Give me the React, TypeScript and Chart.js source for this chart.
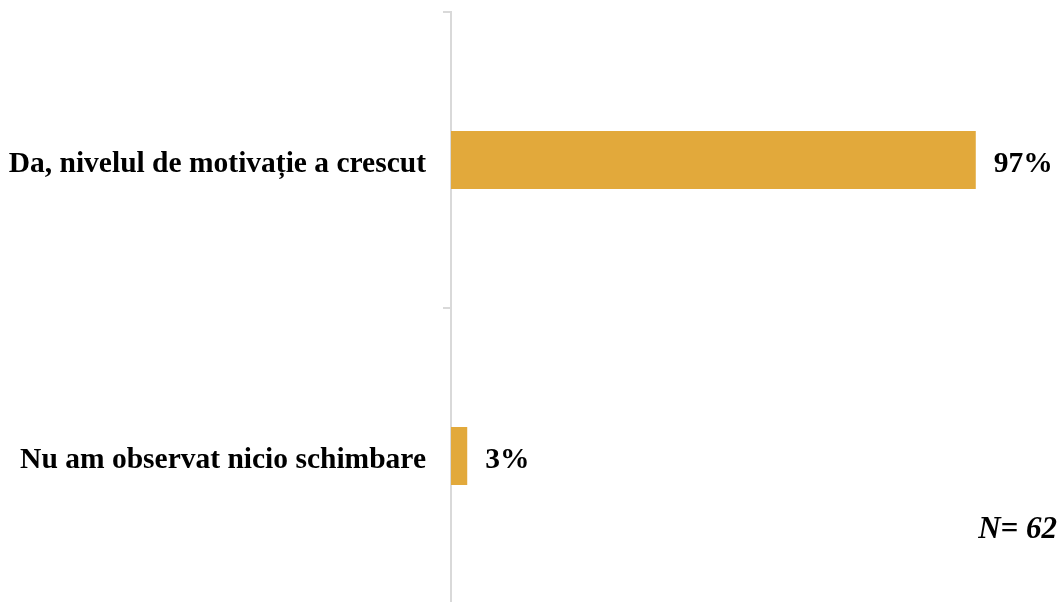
import React, { useEffect, useRef } from "react";
import { Chart, registerables } from "chart.js";

Chart.register(...registerables);

const categories: string[] = ["Da, nivelul de motivație a crescut", "Nu am observat nicio schimbare"];
const values: number[] = [97, 3];
const noteText = "N= 62";

const SERIF = "'Liberation Serif', 'Times New Roman', serif";
const BAR_COLOR = "#E2A93B";
const AXIS_COLOR = "#d9d9d9";

const valueLabels = {
  id: "valueLabels",
  afterDatasetsDraw(chart: any) {
    const ctx = chart.ctx;
    const meta = chart.getDatasetMeta(0);
    ctx.save();
    ctx.font = `bold 29.5px ${SERIF}`;
    ctx.fillStyle = "#000";
    ctx.textAlign = "left";
    ctx.textBaseline = "middle";
    meta.data.forEach((el: any, i: number) => {
      ctx.fillText(`${values[i]}%`, el.x + 18, el.y + 4);
    });
    ctx.font = `italic bold 31px ${SERIF}`;
    ctx.textAlign = "right";
    ctx.fillText(noteText, chart.width - 3, 530);
    ctx.restore();
  },
};

export default function App() {
  const ref = useRef<HTMLCanvasElement | null>(null);
  useEffect(() => {
    if (!ref.current) return;
    const chart = new Chart(ref.current, {
      type: "bar",
      data: {
        labels: categories,
        datasets: [
          {
            data: values,
            backgroundColor: BAR_COLOR,
            borderWidth: 0,
            barPercentage: 0.196,
            categoryPercentage: 1,
          },
        ],
      },
      options: {
        indexAxis: "y",
        responsive: false,
        animation: false,
        layout: { padding: { top: 12, right: 68, left: 0, bottom: 0 } },
        plugins: { legend: { display: false }, tooltip: { enabled: false } },
        scales: {
          x: { display: false, min: 0, max: 100 },
          y: {
            afterFit(scale: any) {
              scale.width = 451;
              scale.paddingTop = 0;
              scale.paddingBottom = 0;
            },
            border: { color: AXIS_COLOR, width: 2 },
            grid: {
              drawOnChartArea: false,
              drawTicks: true,
              tickLength: 8,
              color: AXIS_COLOR,
              lineWidth: 2,
            },
            ticks: {
              color: "#000",
              padding: 17,
              labelOffset: 4,
              font: { family: SERIF, size: 29.5, weight: "bold" },
            },
          },
        },
      },
      plugins: [valueLabels],
    });
    return () => chart.destroy();
  }, []);
  return (
    <div style={{ position: "absolute", left: 0, top: 0, width: 1060, height: 604, background: "#fff" }}>
      <canvas ref={ref} width={1060} height={604} style={{ display: "block" }} />
    </div>
  );
}
